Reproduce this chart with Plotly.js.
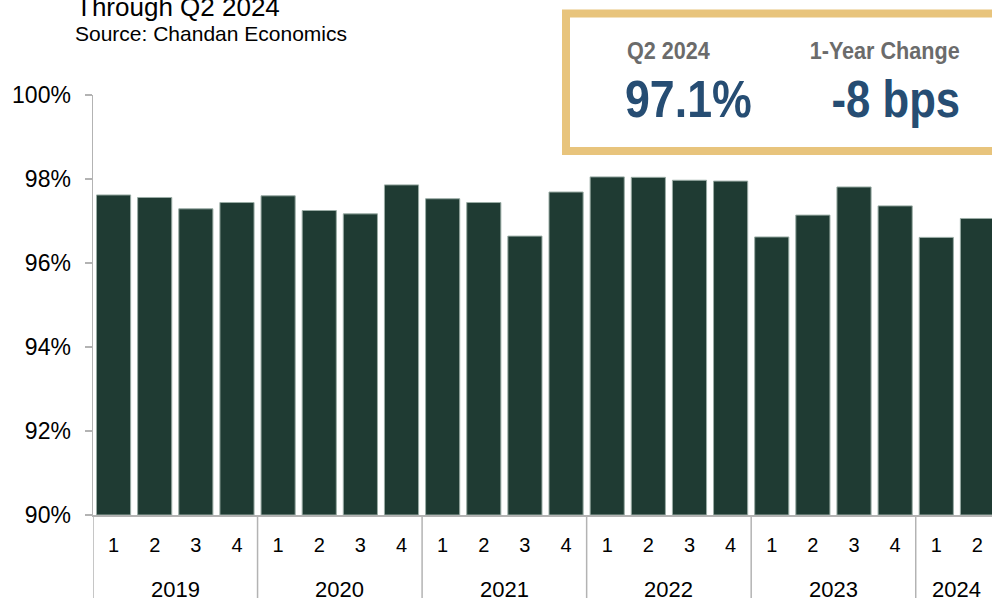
<!DOCTYPE html>
<html>
<head>
<meta charset="utf-8">
<script src="https://cdn.plot.ly/plotly-3.0.1.min.js"></script>
<style>
  html, body { margin: 0; padding: 0; overflow: hidden; background: #fff; }
  #chart { width: 1000px; height: 598px; }
</style>
</head>
<body>
<div id="chart"></div>
<script>
// ---- data ----
const barYears = ['2019','2019','2019','2019','2020','2020','2020','2020','2021','2021','2021','2021',
                  '2022','2022','2022','2022','2023','2023','2023','2023','2024','2024'];
const quarterLabels = ['1','2','3','4','1','2','3','4','1','2','3','4','1','2','3','4','1','2','3','4','1','2'];
const occupancy = [97.62, 97.56, 97.29, 97.44, 97.60, 97.25, 97.17, 97.86, 97.53, 97.44, 96.64, 97.69,
                   98.05, 98.04, 97.97, 97.95, 96.62, 97.14, 97.81, 97.36, 96.61, 97.06];
const yTickVals = [90, 92, 94, 96, 98, 100];
const yTickText = ['90%', '92%', '94%', '96%', '98%', '100%'];
const titleText = 'Through Q2 2024';
const sourceText = 'Source: Chandan Economics';
const kpiLabels = ['Q2 2024', '1-Year Change'];
const kpiValues = ['97.1%', '-8 bps'];

// ---- layout helpers ----
const W = 1000, H = 598;
const M = {l: 93, r: 2, t: 95, b: 83};
const PW = W - M.l - M.r, PH = H - M.t - M.b;
const px2x = px => (px - M.l) / PW;
const py2y = py => 1 - (py - M.t) / PH;

const idx = occupancy.map((_, i) => i);
const FONT = '"Liberation Sans", Arial, Helvetica, sans-serif';

// year groups
const uniqYears = [...new Set(barYears)];
const annotations = [];
const shapes = [];
uniqYears.forEach(yr => {
  const ids = idx.filter(i => barYears[i] === yr);
  const first = Math.min(...ids), last = Math.max(...ids);
  annotations.push({
    xref: 'x', yref: 'paper', x: (first + last) / 2, y: 0, yanchor: 'top', yshift: -60,
    text: yr, showarrow: false, font: {family: FONT, size: 22, color: '#000'}
  });
  shapes.push({
    type: 'line', xref: 'x', yref: 'paper', x0: first - 0.5, x1: first - 0.5, y0: 0, y1: -0.3,
    line: {color: '#b3b3b3', width: 1.5}
  });
});
// title & source
annotations.push({xref: 'paper', yref: 'paper', x: px2x(74), y: py2y(7), xanchor: 'left', yanchor: 'middle',
  text: titleText, showarrow: false, font: {family: FONT, size: 26, color: '#000'}});
annotations.push({xref: 'paper', yref: 'paper', x: px2x(73), y: py2y(33), xanchor: 'left', yanchor: 'middle',
  text: sourceText, showarrow: false, font: {family: FONT, size: 21, color: '#000'}});
// KPI box
shapes.push({type: 'rect', xref: 'paper', yref: 'paper', x0: px2x(566), x1: px2x(1010), y0: py2y(151), y1: py2y(13.5),
  line: {color: '#e8c47c', width: 8}, fillcolor: '#fff', layer: 'above'});
const kpiAnn = [
  {x: 625, y: 51, anchor: 'left', text: kpiLabels[0], size: 24, color: '#6b6b6b', sx: 0.9},
  {x: 962, y: 51, anchor: 'right', text: kpiLabels[1], size: 24, color: '#6b6b6b', sx: 0.9},
  {x: 623, y: 99, anchor: 'left', text: kpiValues[0], size: 52, color: '#264d73', sx: 0.86},
  {x: 962, y: 99, anchor: 'right', text: kpiValues[1], size: 52, color: '#264d73', sx: 0.84}
];
const kpiStart = annotations.length;
kpiAnn.forEach(k => annotations.push({xref: 'paper', yref: 'paper', x: px2x(k.x), y: py2y(k.y),
  xanchor: k.anchor, yanchor: 'middle', text: '<b>' + k.text + '</b>', showarrow: false,
  font: {family: FONT, size: k.size, color: k.color}}));

const yBase = 90;
const trace = {
  type: 'bar', x: idx, y: occupancy.map(v => v - yBase), base: yBase,
  marker: {color: '#1f3b33', line: {color: '#9aaca5', width: 1}},
  hoverinfo: 'skip'
};

const layout = {
  width: W, height: H, margin: M, paper_bgcolor: '#fff', plot_bgcolor: '#fff',
  showlegend: false, bargap: 0.17,
  font: {family: FONT, color: '#000'},
  xaxis: {
    range: [-0.5, occupancy.length - 0.5], tickmode: 'array', tickvals: idx, ticktext: quarterLabels,
    ticks: 'outside', ticklen: 11, tickcolor: 'rgba(0,0,0,0)', showgrid: false, zeroline: false,
    showline: true, linecolor: '#b3b3b3', linewidth: 1.5,
    tickfont: {family: FONT, size: 20, color: '#000'}
  },
  yaxis: {
    range: [90, 100], tickmode: 'array', tickvals: yTickVals, ticktext: yTickText,
    ticks: 'outside', ticklen: 7, tickcolor: '#b3b3b3', tickwidth: 1.5, showgrid: false, zeroline: false,
    showline: true, linecolor: '#b3b3b3', linewidth: 1.5, ticklabelstandoff: 9,
    tickfont: {family: FONT, size: 23, color: '#000'}
  },
  shapes: shapes, annotations: annotations
};
Plotly.newPlot('chart', [trace], layout, {displayModeBar: false, staticPlot: true}).then(gd => {
  // condense the KPI texts horizontally to mimic the condensed typeface
  const groups = gd.querySelectorAll('.annotation');
  kpiAnn.forEach((k, i) => {
    const g = groups[kpiStart + i];
    if (!g) return;
    const t = g.querySelector('text');
    if (!t) return;
    const bb = t.getBBox();
    const ax = k.anchor === 'left' ? bb.x : bb.x + bb.width;
    t.setAttribute('transform', `translate(${ax},0) scale(${k.sx},1) translate(${-ax},0)`);
  });
});
</script>
</body>
</html>
